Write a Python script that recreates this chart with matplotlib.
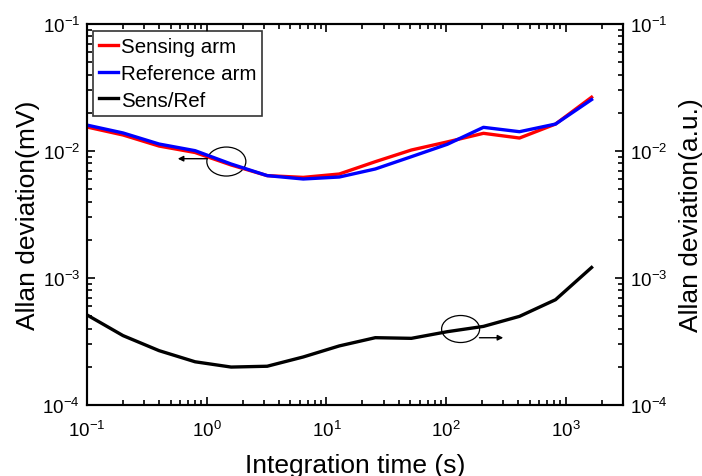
import matplotlib
matplotlib.use("Agg")
import matplotlib.pyplot as plt
from matplotlib.patches import Ellipse

plt.rcParams['font.family'] = ['Liberation Sans', 'DejaVu Sans']
plt.rcParams['mathtext.default'] = 'regular'
plt.rcParams['axes.unicode_minus'] = False

tau = [0.1, 0.2, 0.4, 0.8, 1.6, 3.2, 6.4, 12.8, 25.6, 51.2, 102.4, 204.8, 409.6, 819.2, 1638.4]
sensing = [0.01545, 0.01337, 0.01094, 0.00973, 0.00776, 0.0064, 0.0062, 0.00659, 0.00824, 0.01018, 0.0118, 0.01378, 0.01265, 0.0163, 0.0265]
reference = [0.0160, 0.01387, 0.01135, 0.01006, 0.0079, 0.0064, 0.00602, 0.00624, 0.00722, 0.00902, 0.0113, 0.01536, 0.01419, 0.0163, 0.0254]
ratio = [5.12e-4, 3.52e-4, 2.68e-4, 2.19e-4, 1.99e-4, 2.02e-4, 2.39e-4, 2.92e-4, 3.39e-4, 3.35e-4, 3.78e-4, 4.16e-4, 4.99e-4, 6.75e-4, 1.21e-3]

fig = plt.figure(figsize=(7.02, 4.77), dpi=100)
ax = fig.add_axes([0.1239, 0.1488, 0.7636, 0.7988])
ax2 = ax.twinx()

l1, = ax.plot(tau, sensing, color='#ff0000', lw=2.4, label='Sensing arm')
l2, = ax.plot(tau, reference, color='#0000ff', lw=2.4, label='Reference arm')
l3, = ax2.plot(tau, ratio, color='black', lw=2.4, label='Sens/Ref')

for a in (ax, ax2):
    a.set_xscale('log')
    a.set_yscale('log')
    a.set_xlim(0.1, 3000)
    a.set_ylim(1e-4, 1e-1)
    for s in a.spines.values():
        s.set_linewidth(1.5)

ax.tick_params(which='both', direction='in', top=True, right=False, labelsize=13.5, width=1.2)
ax.tick_params(which='major', length=6)
ax.tick_params(which='minor', length=3.5)
ax.tick_params(axis='y', pad=5)
ax.tick_params(axis='x', pad=11)
ax2.tick_params(which='both', direction='in', labelsize=13.5, width=1.2, pad=5)
ax2.tick_params(which='major', length=6)
ax2.tick_params(which='minor', length=3.5)

ax.set_xlabel('Integration time (s)', fontsize=19, labelpad=9)
ax.set_ylabel('Allan deviation(mV)', fontsize=19, labelpad=2)
ax2.set_ylabel('Allan deviation(a.u.)', fontsize=19, labelpad=8)

leg = ax.legend(handles=[l1, l2, l3], loc='upper left', bbox_to_anchor=(0.011, 0.982),
                borderaxespad=0, fontsize=14.8, frameon=True, fancybox=False,
                edgecolor='black', handlelength=0.9, handletextpad=0.15,
                labelspacing=0.38, borderpad=0.3)
leg.get_frame().set_linewidth(1.2)
leg.set_zorder(10)

ax.add_patch(Ellipse((0.260, 0.639), 0.0728, 0.0761, transform=ax.transAxes,
                     fill=False, edgecolor='black', lw=0.9))
ax.annotate('', xy=(0.1642, 0.6465), xytext=(0.2295, 0.6465), xycoords='axes fraction',
            arrowprops=dict(arrowstyle='-|>', color='black', lw=1.0, mutation_scale=8))
ax.add_patch(Ellipse((0.697, 0.1995), 0.0709, 0.0709, transform=ax.transAxes,
                     fill=False, edgecolor='black', lw=0.9))
ax.annotate('', xy=(0.7817, 0.1766), xytext=(0.727, 0.1766), xycoords='axes fraction',
            arrowprops=dict(arrowstyle='-|>', color='black', lw=1.0, mutation_scale=8))

fig.savefig('out.png', dpi=100)
